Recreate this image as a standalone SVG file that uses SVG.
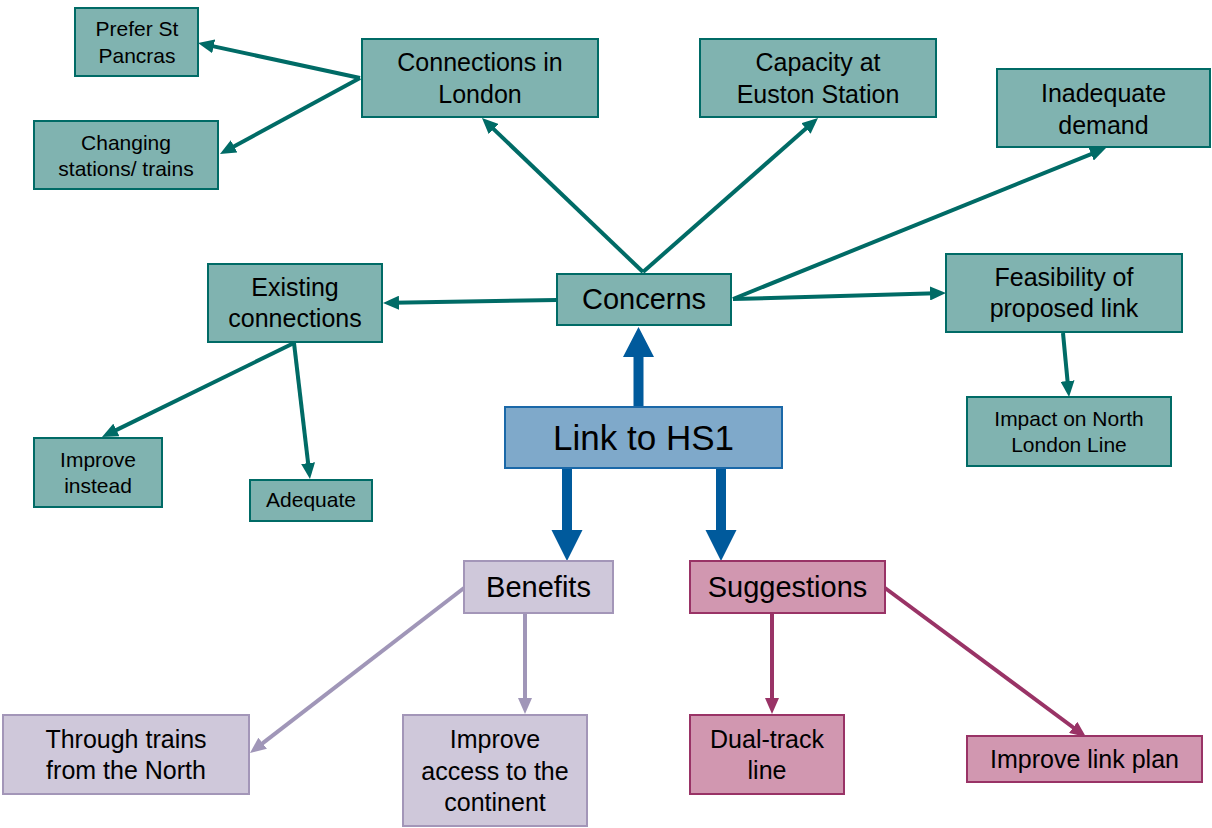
<svg xmlns="http://www.w3.org/2000/svg" width="1212" height="828" viewBox="0 0 1212 828">
<style>
text{font-family:"Liberation Sans",Arial,sans-serif;fill:#000;text-anchor:middle}
.t rect{fill:#80b3b0;stroke:#006b66;stroke-width:2}
.s{font-size:21px}.m{font-size:25px}.l{font-size:29px}
.tl{stroke:#006b66;stroke-width:4;fill:none}
.pl{stroke:#a096b8;stroke-width:4;fill:none}
.ml{stroke:#993366;stroke-width:4;fill:none}
</style>
<defs>
<marker id="at" markerUnits="userSpaceOnUse" markerWidth="16" markerHeight="14" refX="6" refY="7" orient="auto"><path d="M0,0 L16,7 L0,14 z" fill="#006b66"/></marker>
<marker id="ap" markerUnits="userSpaceOnUse" markerWidth="16" markerHeight="14" refX="6" refY="7" orient="auto"><path d="M0,0 L16,7 L0,14 z" fill="#a096b8"/></marker>
<marker id="am" markerUnits="userSpaceOnUse" markerWidth="16" markerHeight="14" refX="6" refY="7" orient="auto"><path d="M0,0 L16,7 L0,14 z" fill="#993366"/></marker>
</defs>
<rect width="1212" height="828" fill="#fff"/>
<g id="connectors">
<line class="tl" x1="360" y1="78" x2="207.8" y2="45.1" marker-end="url(#at)"/>
<line class="tl" x1="360" y1="78" x2="228.8" y2="149.2" marker-end="url(#at)"/>
<line class="tl" x1="643" y1="272" x2="489.2" y2="124.9" marker-end="url(#at)"/>
<line class="tl" x1="643" y1="272" x2="810.5" y2="124.6" marker-end="url(#at)"/>
<line class="tl" x1="733" y1="299" x2="1096.7" y2="151.8" marker-end="url(#at)"/>
<line class="tl" x1="733" y1="299" x2="936" y2="293.3" marker-end="url(#at)"/>
<line class="tl" x1="557" y1="300" x2="393" y2="302.8" marker-end="url(#at)"/>
<line class="tl" x1="294" y1="343" x2="111" y2="432.6" marker-end="url(#at)"/>
<line class="tl" x1="294" y1="343" x2="308.8" y2="469.1" marker-end="url(#at)"/>
<line class="tl" x1="1063" y1="333" x2="1068.1" y2="387" marker-end="url(#at)"/>
<line class="pl" x1="464" y1="588" x2="257.9" y2="746.9" marker-end="url(#ap)"/>
<line class="pl" x1="525" y1="614" x2="525" y2="704" marker-end="url(#ap)"/>
<line class="ml" x1="772" y1="614" x2="772" y2="704" marker-end="url(#am)"/>
<line class="ml" x1="885" y1="588" x2="1078" y2="731" marker-end="url(#am)"/>
<polygon fill="#005a9c" points="633.5,407 643.5,407 643.5,357 654,357 638.5,327 623,357 633.5,357"/>
<polygon fill="#005a9c" points="562,468 572,468 572,530 582.5,530 567,561 551.5,530 562,530"/>
<polygon fill="#005a9c" points="716,468 726,468 726,530 736.5,530 721,561 705.5,530 716,530"/>
</g>
<g id="n-prefer" class="t"><rect x="75" y="8" width="123" height="68"/><text class="s" x="137" y="36">Prefer St</text><text class="s" x="137" y="63">Pancras</text></g>
<g id="n-changing" class="t"><rect x="34" y="121" width="184" height="68"/><text class="s" x="126" y="150">Changing</text><text class="s" x="126" y="176">stations/ trains</text></g>
<g id="n-connections" class="t"><rect x="362" y="39" width="236" height="78"/><text class="m" x="480" y="71">Connections in</text><text class="m" x="480" y="103">London</text></g>
<g id="n-capacity" class="t"><rect x="700" y="39" width="236" height="78"/><text class="m" x="818" y="71">Capacity at</text><text class="m" x="818" y="103">Euston Station</text></g>
<g id="n-demand" class="t"><rect x="997" y="69" width="213" height="78"/><text class="m" x="1103.5" y="102">Inadequate</text><text class="m" x="1103.5" y="134">demand</text></g>
<g id="n-existing" class="t"><rect x="208" y="264" width="174" height="78"/><text class="m" x="295" y="296">Existing</text><text class="m" x="295" y="327">connections</text></g>
<g id="n-concerns" class="t"><rect x="557" y="274" width="174" height="51"/><text class="l" x="644" y="309">Concerns</text></g>
<g id="n-feasibility" class="t"><rect x="946" y="254" width="236" height="78"/><text class="m" x="1064" y="286">Feasibility of</text><text class="m" x="1064" y="317">proposed link</text></g>
<g id="n-impact" class="t"><rect x="967" y="397" width="204" height="69"/><text class="s" x="1069" y="426">Impact on North</text><text class="s" x="1069" y="452">London Line</text></g>
<g id="n-improve-instead" class="t"><rect x="34" y="438" width="128" height="69"/><text class="s" x="98" y="467">Improve</text><text class="s" x="98" y="493">instead</text></g>
<g id="n-adequate" class="t"><rect x="250" y="480" width="122" height="41"/><text class="s" x="311" y="507">Adequate</text></g>
<g id="n-link"><rect x="505" y="407" width="277" height="61" fill="#7fa9ca" stroke="#1a68a8" stroke-width="2"/><text x="643.5" y="450" style="font-size:35px">Link to HS1</text></g>
<g id="n-benefits"><rect x="464" y="561" width="149" height="52" fill="#cfc8da" stroke="#a396b8" stroke-width="2"/><text class="l" x="538.5" y="597">Benefits</text></g>
<g id="n-suggestions"><rect x="690" y="561" width="195" height="52" fill="#d197b0" stroke="#993366" stroke-width="2"/><text class="l" x="787.5" y="597">Suggestions</text></g>
<g id="n-through"><rect x="3" y="715" width="246" height="79" fill="#cfc8da" stroke="#a396b8" stroke-width="2"/><text class="m" x="126" y="748">Through trains</text><text class="m" x="126" y="779">from the North</text></g>
<g id="n-access"><rect x="403" y="715" width="184" height="111" fill="#cfc8da" stroke="#a396b8" stroke-width="2"/><text class="m" x="495" y="748">Improve</text><text class="m" x="495" y="780">access to the</text><text class="m" x="495" y="811">continent</text></g>
<g id="n-dual"><rect x="690" y="715" width="154" height="79" fill="#d197b0" stroke="#993366" stroke-width="2"/><text class="m" x="767" y="748">Dual-track</text><text class="m" x="767" y="779">line</text></g>
<g id="n-plan"><rect x="967" y="736" width="235" height="46" fill="#d197b0" stroke="#993366" stroke-width="2"/><text class="m" x="1084.5" y="768">Improve link plan</text></g>
</svg>
